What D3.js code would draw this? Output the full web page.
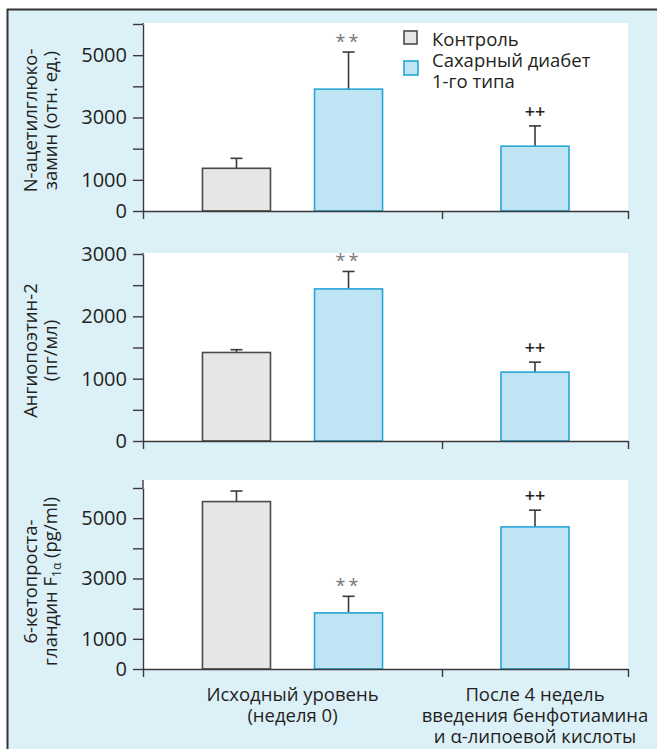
<!DOCTYPE html>
<html lang="ru">
<head>
    <meta charset="UTF-8">
    <script src="https://d3js.org/d3.v7.min.js"></script>
    <title>Bars</title>
    <style>
        body { margin: 0; background: #fff; }
        text { font-family: 'Open Sans', sans-serif; fill: #231f20; }
        .tick text { font-size: 20px; }
        .axis path, .axis line { stroke: #3a3a3a; stroke-width: 1.4; }
    </style>
</head>
<body>
<svg height="749" width="657"></svg>
<script>
    const width = 657, height = 749;

    // data
    const categories = [["Исходный уровень", "(неделя 0)"],
                        ["После 4 недель", "введения бенфотиамина", "и α-липоевой кислоты"]];
    const series = ["Контроль", "Сахарный диабет", "1-го типа"];

    const nagControl = [1370, null], nagControlErr = [320, null];
    const nagDiabetes = [3910, 2080], nagDiabetesErr = [1190, 650];

    const angControl = [1420, null], angControlErr = [45, null];
    const angDiabetes = [2440, 1105], angDiabetesErr = [280, 160];

    const ketoControl = [5550, null], ketoControlErr = [350, null];
    const ketoDiabetes = [1860, 4710], ketoDiabetesErr = [550, 555];

    const marks = ["**", "++"];

    const svg = d3.select("svg");

    svg.append("rect").attr("x", 8).attr("y", 10)
        .attr("width", width).attr("height", height)
        .style("fill", "#dcf0f8");
    svg.append("path").attr("d", `M7.5,${height} V9.5 H${width}`)
        .style("fill", "none").style("stroke", "#333").style("stroke-width", 2);

    // group edges on the x axis
    const xEdge = d3.scaleLinear().domain([0, 1, 2]).range([143, 442, 628]);
    const xSeries = d3.scaleBand().domain(["c", "d"]).range([-112, 112])
        .paddingInner(0.393).paddingOuter(0.196);

    drawPanel([211, 24], 1, [0, 6000], 1000, [0, 1000, 3000, 5000],
        nagControl, nagControlErr, nagDiabetes, nagDiabetesErr,
        ["N-ацетилглюко-", "замин (отн. ед.)"]);
    drawPanel([441, 254], 1, [0, 3000], 500, [0, 1000, 2000, 3000],
        angControl, angControlErr, angDiabetes, angDiabetesErr,
        ["Ангиопоэтин-2", "(пг/мл)"]);
    drawPanel([669, 488], 8, [0, 6000], 1000, [0, 1000, 3000, 5000],
        ketoControl, ketoControlErr, ketoDiabetes, ketoDiabetesErr,
        ["6-кетопроста-", null]);

    function drawPanel(range, pad, domain, step, labelled, ctl, ctlErr, dia, diaErr, title) {
        const y = d3.scaleLinear().domain(domain).range(range);
        const g = svg.append("g");

        g.append("rect").attr("x", xEdge(0)).attr("y", range[1] - pad)
            .attr("width", xEdge(2) - xEdge(0)).attr("height", range[0] - range[1] + pad)
            .style("fill", "#fff");

        const bars = [];
        ctl.forEach((v, i) => { if (v != null) bars.push({i, v, e: ctlErr[i], s: "c"}); });
        dia.forEach((v, i) => { if (v != null) bars.push({i, v, e: diaErr[i], s: "d", m: marks[i]}); });
        const cx = d => xEdge(d.i + 0.5) + (ctl[d.i] != null ? xSeries(d.s) + xSeries.bandwidth() / 2 : 0);
        const bw = xSeries.bandwidth();

        g.selectAll("line.err").data(bars).enter().append("line")
            .attr("x1", cx).attr("x2", cx)
            .attr("y1", d => y(d.v)).attr("y2", d => y(d.v + d.e))
            .style("stroke", "#3a3a3a").style("stroke-width", 1.6);
        g.selectAll("line.cap").data(bars).enter().append("line")
            .attr("x1", d => cx(d) - 6).attr("x2", d => cx(d) + 6)
            .attr("y1", d => y(d.v + d.e)).attr("y2", d => y(d.v + d.e))
            .style("stroke", "#3a3a3a").style("stroke-width", 1.6);
        g.selectAll("rect.bar").data(bars).enter().append("rect")
            .attr("x", d => cx(d) - bw / 2).attr("width", bw)
            .attr("y", d => y(d.v)).attr("height", d => y(0) - y(d.v))
            .style("fill", d => d.s === "c" ? "#e6e6e4" : "#bfe4f4")
            .style("stroke", d => d.s === "c" ? "#4a4a4a" : "#27a5d6")
            .style("stroke-width", 1.6);
        g.selectAll("text.mark").data(bars.filter(d => d.m)).enter().append("text")
            .attr("x", cx).attr("y", d => y(d.v + d.e) - 14)
            .attr("dy", d => d.m === "**" ? "0.55em" : "0.33em")
            .attr("text-anchor", "middle")
            .style("font-size", "18px")
            .style("font-weight", d => d.m === "**" ? 400 : 600)
            .style("letter-spacing", d => d.m === "**" ? "3px" : "0px")
            .style("fill", d => d.m === "**" ? "#777" : "#222")
            .text(d => d.m);

        const yAxis = d3.axisLeft(y)
            .tickValues(d3.range(domain[0], domain[1] + 1, step))
            .tickSize(10).tickSizeOuter(0).tickPadding(6)
            .tickFormat(d => labelled.includes(d) ? d : "");
        g.append("g").attr("class", "axis")
            .attr("transform", `translate(${xEdge(0)},0)`).call(yAxis);
        g.append("line").attr("class", "axis")
            .attr("x1", xEdge(0)).attr("x2", xEdge(0))
            .attr("y1", range[1] - pad).attr("y2", range[1])
            .style("stroke", "#3a3a3a").style("stroke-width", 1.4);

        const xAxis = d3.axisBottom(xEdge).tickValues([0, 1, 2])
            .tickSize(8).tickSizeOuter(0).tickFormat("");
        g.append("g").attr("class", "axis")
            .attr("transform", `translate(0,${y(0)})`).call(xAxis);

        // rotated title
        const mid = (range[0] + range[1]) / 2 + 3;
        const t = g.append("text").attr("transform", `translate(0,${mid}) rotate(-90)`)
            .attr("text-anchor", "middle").style("font-size", "18.5px");
        t.append("tspan").attr("x", 0).attr("y", 37).text(title[0]);
        const t2 = t.append("tspan").attr("x", 0).attr("y", 57);
        if (title[1]) {
            t2.text(title[1]);
        } else {
            t2.text("гландин F");
            t2.append("tspan").attr("dy", 4).style("font-size", "12px").text("1α");
            t2.append("tspan").attr("dy", -4).text(" (pg/ml)");
        }
    }

    // category labels
    const cat = svg.append("g");
    categories.forEach((lines, i) => {
        cat.selectAll(null).data(lines).enter().append("text")
            .attr("text-anchor", "middle").style("font-size", "18.5px")
            .attr("x", xEdge(i + 0.5)).attr("y", (d, k) => 701 + k * 21)
            .text(d => d);
    });

    // legend
    const leg = svg.append("g").attr("transform", "translate(404,31)");
    leg.append("rect").attr("width", 13).attr("height", 13)
        .style("fill", "#e6e6e4").style("stroke", "#4a4a4a").style("stroke-width", 1.6);
    leg.append("rect").attr("y", 30).attr("width", 14).attr("height", 14)
        .style("fill", "#bfe4f4").style("stroke", "#27a5d6").style("stroke-width", 1.6);
    leg.selectAll("text").data(series).enter().append("text")
        .attr("x", 28).attr("y", (d, k) => 15 + k * 21)
        .style("font-size", "18.5px").text(d => d);
</script>
</body>
</html>
